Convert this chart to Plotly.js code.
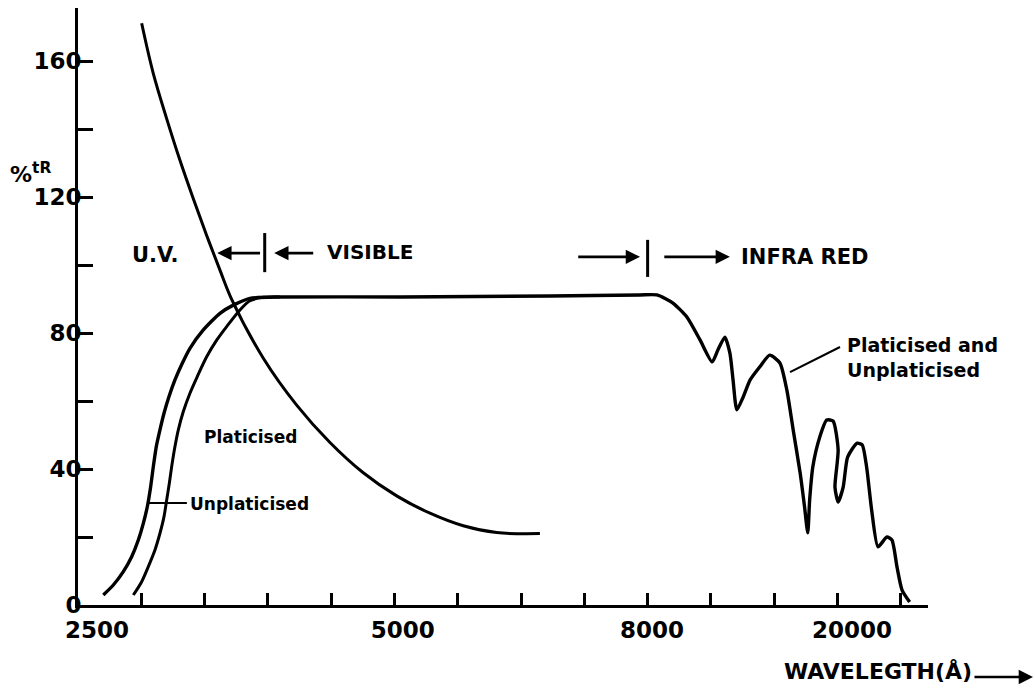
<!DOCTYPE html>
<html>
<head>
<meta charset="utf-8">
<script src="https://cdn.plot.ly/plotly-3.0.1.min.js"></script>
<style>html,body{margin:0;padding:0;background:#fff;}#chart{width:1035px;height:698px;}</style>
</head>
<body>
<div id="chart"></div>
<script>
// x positions are in units of the evenly spaced wavelength tick marks (0 = 2500 A origin)
const xTickMarks = [1,2,3,4,5,6,7,8,9,10,11,12,13];
const xLabelPos = [0.30, 5.13, 9.07, 12.23];
const xLabelText = ['2500', '5000', '8000', '20000'];
const yTickVals = [0,20,40,60,80,100,120,140,160];
const yTickText = ['0','','40','','80','','120','','160'];

// UV absorption curve
const uvX = [1.006,1.190,1.402,1.611,1.822,2.033,2.243,2.428,2.928,3.455,3.981,4.507,5.035,5.561,6.087,6.614,7.298];
const uvY = [171.1,156.3,143.0,130.8,119.5,108.7,98.5,89.9,72.6,58.8,47.8,38.9,32.1,27.0,23.3,21.3,21.0];

// Plasticised: rise, plateau and infrared region (shared with unplasticised)
const plastX = [0.400,0.558,0.716,0.848,0.953,1.032,1.095,1.148,1.190,1.237,1.295,1.359,1.438,1.532,1.648,1.769,1.980,2.243,2.454,2.717,
  3.19,5.09,7.46,8.878,9.147,
  9.40,9.62,9.83,10.02,10.11,10.22,10.30,10.35,10.41,10.51,10.62,10.77,10.93,11.09,11.20,11.30,11.41,11.48,11.53,
  11.56,11.61,11.72,11.83,11.93,12.01,11.96,12.01,12.09,12.16,12.31,12.39,12.46,12.54,12.64,12.78,12.86,12.94,13.02,13.14];
const plastY = [2.94,5.88,9.80,14.2,19.1,24.0,28.9,34.8,40.7,46.6,51.5,56.4,61.3,66.2,71.1,75.5,80.9,85.8,88.2,90.2,
  90.6,90.6,90.9,91.2,91.2,
  88.8,84.7,77.9,71.5,75.0,78.8,74.1,66.2,57.4,61.2,66.2,70.0,73.5,71.2,63.2,51.5,38.8,28.8,21.2,
  30.9,40.6,49.4,54.4,54.1,45.6,34.7,30.3,34.7,43.5,47.6,47.1,40.6,27.9,17.1,20.0,19.1,11.2,4.4,0.9];

// Unplasticised: rise until it merges with the plateau
const unplX = [0.874,1.006,1.111,1.216,1.295,1.359,1.401,1.443,1.480,1.527,1.585,1.664,1.769,1.885,2.033,2.191,2.349,2.559,2.717,2.928,3.19];
const unplY = [2.94,6.86,11.3,16.2,21.1,26.0,30.9,35.8,40.7,46.1,51.5,56.9,62.3,67.2,73.0,77.9,81.9,86.8,89.5,90.5,90.6];

const traces = [
  {x:uvX, y:uvY, mode:'lines', line:{color:'#000', width:3, shape:'spline', smoothing:1}, name:'U.V.', hoverinfo:'skip'},
  {x:plastX, y:plastY, mode:'lines', line:{color:'#000', width:3.4, shape:'spline', smoothing:0.6}, name:'Platicised', hoverinfo:'skip'},
  {x:unplX, y:unplY, mode:'lines', line:{color:'#000', width:3, shape:'spline', smoothing:0.8}, name:'Unplaticised', hoverinfo:'skip'}
];

const F = 'DejaVu Sans, Arial, sans-serif';
const txt = (x, y, t, size, extra) => Object.assign({x:x, y:y, xref:'x', yref:'y', text:t, showarrow:false,
  font:{family:F, size:size, color:'#000', weight:700}}, extra||{});
const arr = (x, y, ax, ay) => ({x:x, y:y, ax:ax, ay:ay, xref:'x', yref:'y', axref:'x', ayref:'y', text:'',
  showarrow:true, arrowhead:2, arrowsize:1.1, arrowwidth:2.6, arrowcolor:'#000'});

const annotations = [
  {x:-0.0824, y:0.7236, xref:'paper', yref:'paper', xanchor:'left', yanchor:'middle', text:'%<sup>tR</sup>', showarrow:false,
    font:{family:F, size:22, color:'#000', weight:700}},
  txt(1.22, 102.9, 'U.V.', 21),
  arr(2.20, 103.5, 2.90, 103.5),
  arr(3.10, 103.5, 3.74, 103.5),
  txt(4.61, 103.8, 'VISIBLE', 20),
  arr(8.88, 102.4, 7.88, 102.4),
  arr(10.30, 102.4, 9.24, 102.4),
  txt(11.48, 102.4, 'INFRA RED', 21),
  txt(12.12, 72.9, 'Platicised and<br>Unplaticised', 19, {xanchor:'left', align:'left'}),
  txt(2.73, 49.4, 'Platicised', 17),
  txt(1.74, 29.6, 'Unplaticised', 17, {xanchor:'left'}),
  {x:0.828, y:-0.1122, xref:'paper', yref:'paper', xanchor:'left', yanchor:'middle', text:'WAVELEGTH(Å)', showarrow:false,
    font:{family:F, size:22, color:'#000', weight:700}},
  {x:1.1235, y:-0.1206, xref:'paper', yref:'paper', ax:-60, ay:0, text:'', showarrow:true,
    arrowhead:2, arrowsize:1.1, arrowwidth:2.6, arrowcolor:'#000'}
];

const shapes = [
  {type:'line', xref:'x', yref:'y', x0:2.95, x1:2.95, y0:97.9, y1:109.4, line:{color:'#000', width:3}},
  {type:'line', xref:'x', yref:'y', x0:9.0, x1:9.0, y0:96.5, y1:107.4, line:{color:'#000', width:3}},
  {type:'line', xref:'x', yref:'y', x0:11.25, x1:12.04, y0:68.5, y1:75.9, line:{color:'#000', width:2.2}},
  {type:'line', xref:'x', yref:'y', x0:1.11, x1:1.72, y0:30.0, y1:30.0, line:{color:'#000', width:2.2}}
];

const layout = {
  width:1035, height:698,
  margin:{l:78, r:107, t:8, b:93},
  paper_bgcolor:'#fff', plot_bgcolor:'#fff',
  showlegend:false,
  xaxis:{range:[0,13.43], showline:true, linewidth:3, linecolor:'#000', showgrid:false, zeroline:false,
    tickmode:'array', tickvals:xLabelPos, ticktext:xLabelText, ticks:'', ticklabelstandoff:2,
    tickfont:{family:F, size:23, color:'#000', weight:700},
    minor:{tickmode:'array', tickvals:xTickMarks, ticks:'inside', ticklen:12, tickwidth:3, tickcolor:'#000', showgrid:false}},
  yaxis:{range:[0,175.6], showline:true, linewidth:3, linecolor:'#000', showgrid:false, zeroline:false,
    tickmode:'array', tickvals:yTickVals, ticktext:yTickText, ticks:'inside', ticklen:15, tickwidth:3, tickcolor:'#000',
    ticklabelstandoff:-11,
    tickfont:{family:F, size:23, color:'#000', weight:700}},
  annotations:annotations,
  shapes:shapes
};

Plotly.newPlot('chart', traces, layout, {staticPlot:true, displayModeBar:false});
</script>
</body>
</html>
